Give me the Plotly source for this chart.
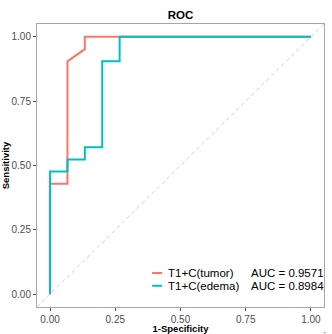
import plotly.graph_objects as go

# ROC data
tumor_fpr = [0, 0, 0.0667, 0.0667, 0.1333, 0.1333, 1.0]
tumor_tpr = [0, 0.4286, 0.4286, 0.9048, 0.9524, 1.0, 1.0]
edema_fpr = [0, 0, 0.0667, 0.0667, 0.1333, 0.1333, 0.2, 0.2, 0.2667, 0.2667, 1.0]
edema_tpr = [0, 0.4762, 0.4762, 0.5238, 0.5238, 0.5714, 0.5714, 0.9048, 0.9048, 1.0, 1.0]
series_names = ["T1+C(tumor)", "T1+C(edema)"]
auc_labels = ["AUC = 0.9571", "AUC = 0.8984"]
colors = ["#F8766D", "#00BFC4"]
ticks = [0, 0.25, 0.5, 0.75, 1.0]
tick_text = ["0.00", "0.25", "0.50", "0.75", "1.00"]
diag = [-0.05, 1.05]

FONT = "Liberation Sans, Arial, sans-serif"

fig = go.Figure()
fig.add_trace(go.Scatter(x=diag, y=diag, mode="lines",
                         line=dict(color="#CFCFCF", width=1, dash="4px,3px"),
                         showlegend=False, hoverinfo="skip"))
fig.add_trace(go.Scatter(x=tumor_fpr, y=tumor_tpr, mode="lines", name=series_names[0],
                         line=dict(color=colors[0], width=2), showlegend=False))
fig.add_trace(go.Scatter(x=edema_fpr, y=edema_tpr, mode="lines", name=series_names[1],
                         line=dict(color=colors[1], width=2), showlegend=False))

# manual legend (keys + text)
leg_y = [0.12, 0.075]
for i in range(2):
    fig.add_shape(type="line", xref="paper", yref="paper",
                  x0=0.401, x1=0.436, y0=leg_y[i], y1=leg_y[i],
                  line=dict(color=colors[i], width=2))
    fig.add_annotation(xref="paper", yref="paper", x=0.449, y=leg_y[i],
                       xanchor="left", yanchor="middle", showarrow=False,
                       text=series_names[i], font=dict(size=11.5, color="#000000", family=FONT))
    fig.add_annotation(xref="paper", yref="paper", x=0.737, y=leg_y[i],
                       xanchor="left", yanchor="middle", showarrow=False,
                       text=auc_labels[i], font=dict(size=11.5, color="#000000", family=FONT))

fig.add_annotation(xref="paper", yref="paper", x=1.017, y=-0.088, yanchor="middle", showarrow=False,
                   text="+", font=dict(size=6, color="#999999", family=FONT))

axis_common = dict(
    tickvals=ticks, ticktext=tick_text, range=[-0.05, 1.05], automargin=False,
    showgrid=False, zeroline=False, showline=True, mirror=True,
    linecolor="#A6A6A6", linewidth=1,
    ticks="outside", ticklen=3, tickcolor="#4D4D4D", tickwidth=1,
    tickfont=dict(size=10, color="#4D4D4D", family=FONT),
)

fig.update_layout(
    width=332, height=334,
    margin=dict(l=37, r=8, t=24, b=27, autoexpand=False),
    paper_bgcolor="white", plot_bgcolor="white",
    title=dict(text="<b>ROC</b>", x=0.5435, xanchor="center", y=0.955, yanchor="middle",
               font=dict(size=11.5, color="#000000", family=FONT)),
    xaxis=dict(**axis_common,
               title=dict(text="<b>1-Specificity</b>", standoff=1,
                          font=dict(size=9.5, color="#000000", family=FONT))),
    yaxis=dict(**axis_common,
               title=dict(text="<b>Sensitivity</b>",
                          font=dict(size=9.5, color="#000000", family=FONT))),
    showlegend=False,
)

fig.write_html("out.html", config={"displayModeBar": False},
               post_script="document.body.style.margin='0';")
